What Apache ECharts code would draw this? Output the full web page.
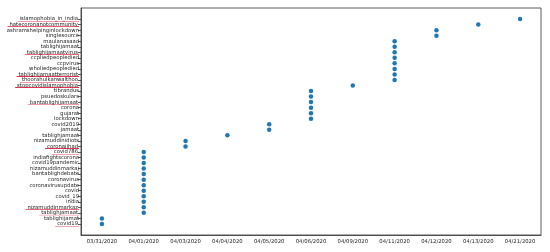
<!DOCTYPE html>
<html>
<head>
<meta charset="utf-8">
<script src="https://cdn.jsdelivr.net/npm/echarts@6/dist/echarts.min.js"></script>
<style>
  html, body { margin: 0; padding: 0; background: #fff; }
  #chart { width: 550px; height: 252px; }
</style>
</head>
<body>
<div id="chart"></div>
<script>
// dates on the x axis
const dates = ['03/31/2020', '04/01/2020', '04/03/2020', '04/04/2020', '04/05/2020',
  '04/06/2020', '04/09/2020', '04/11/2020', '04/12/2020', '04/13/2020', '04/21/2020']

// hashtags, top to bottom
const hashtags = [
  'islamophobia_in_india', 'hatecoronanotcommunity', 'ashramshelpinginlockdown', 'singlesource',
  'maulanasaad', 'tablighijamaat', 'tablighijamaatvirus', 'ccpliedpeopledied', 'ccpvirus',
  'wholiedpeopledied', 'tablighijamaatterrorist', 'thoorahulkanwalthoo', 'stopcovidislamophobia',
  'tibrandus', 'psuedoskulars', 'bantablighijamaat', 'corona', 'gujarat', 'lockdown',
  'covid2019', 'jamaat', 'tablighjamaat', 'nizamuddinidiots', 'coronajihad', 'covid786',
  'indiafightscorona', 'covid19pandemic', 'nizamuddinmarkaj', 'bantablighdebate', 'coronavirus',
  'coronavirusupdate', 'covid', 'covid_19', 'india', 'nizamuddinmarkaz', 'tablighjamaat',
  'tablighijamat', 'covid19'
]

// date each hashtag appears, same order
const firstSeen = [
  '04/21/2020', '04/13/2020', '04/12/2020', '04/12/2020',
  '04/11/2020', '04/11/2020', '04/11/2020', '04/11/2020', '04/11/2020',
  '04/11/2020', '04/11/2020', '04/11/2020', '04/09/2020',
  '04/06/2020', '04/06/2020', '04/06/2020', '04/06/2020', '04/06/2020', '04/06/2020',
  '04/05/2020', '04/05/2020', '04/04/2020', '04/03/2020', '04/03/2020', '04/01/2020',
  '04/01/2020', '04/01/2020', '04/01/2020', '04/01/2020', '04/01/2020',
  '04/01/2020', '04/01/2020', '04/01/2020', '04/01/2020', '04/01/2020', '04/01/2020',
  '03/31/2020', '03/31/2020'
]

// hashtags marked in red
const marked = [0, 1, 6, 10, 11, 12, 15, 23, 24, 34, 35, 37]

// small red underline image, stretched under the marked labels
const ul = document.createElement('canvas')
ul.width = 4
ul.height = 14
const uctx = ul.getContext('2d')
uctx.fillStyle = '#e2324f'
uctx.fillRect(0, 12, 4, 2)

const chart = echarts.init(document.getElementById('chart'))
const rowIdx = hashtags.map((_, i) => i)

const option = {
  animation: false,
  textStyle: { fontFamily: 'DejaVu Sans' },
  grid: {
    left: 81, right: 9, top: 8, bottom: 17,
    show: true, borderColor: '#333', borderWidth: 0.8
  },
  xAxis: {
    type: 'category',
    data: dates,
    boundaryGap: true,
    axisLine: { onZero: false, lineStyle: { color: '#333', width: 0.8 } },
    axisTick: { alignWithLabel: true, length: 3, lineStyle: { color: '#333', width: 0.8 } },
    axisLabel: { color: '#222', fontSize: 5.3, margin: 4, interval: 0 },
    splitLine: { show: false }
  },
  yAxis: {
    type: 'value',
    inverse: true,
    min: -2,
    max: 39,
    axisLine: { show: true, onZero: false, lineStyle: { color: '#333', width: 0.8 } },
    axisTick: { show: true, length: 3, customValues: rowIdx, lineStyle: { color: '#333', width: 0.8 } },
    axisLabel: {
      color: '#222', fontSize: 5.3, margin: 2,
      customValues: rowIdx,
      hideOverlap: false,
      showMinLabel: true, showMaxLabel: true,
      formatter: v => marked.indexOf(v) >= 0 ? '{u|' + hashtags[v] + '}' : hashtags[v],
      rich: {
        u: {
          fontSize: 5.3, color: '#222', padding: [0, 1, 0, 2],
          backgroundColor: { image: ul }
        }
      }
    },
    splitLine: { show: false }
  },
  series: [{
    type: 'scatter',
    symbolSize: 4.5,
    itemStyle: { color: '#1f77b4', opacity: 1 },
    data: hashtags.map((h, i) => [dates.indexOf(firstSeen[i]), i])
  }]
}

chart.setOption(option)
</script>
</body>
</html>
